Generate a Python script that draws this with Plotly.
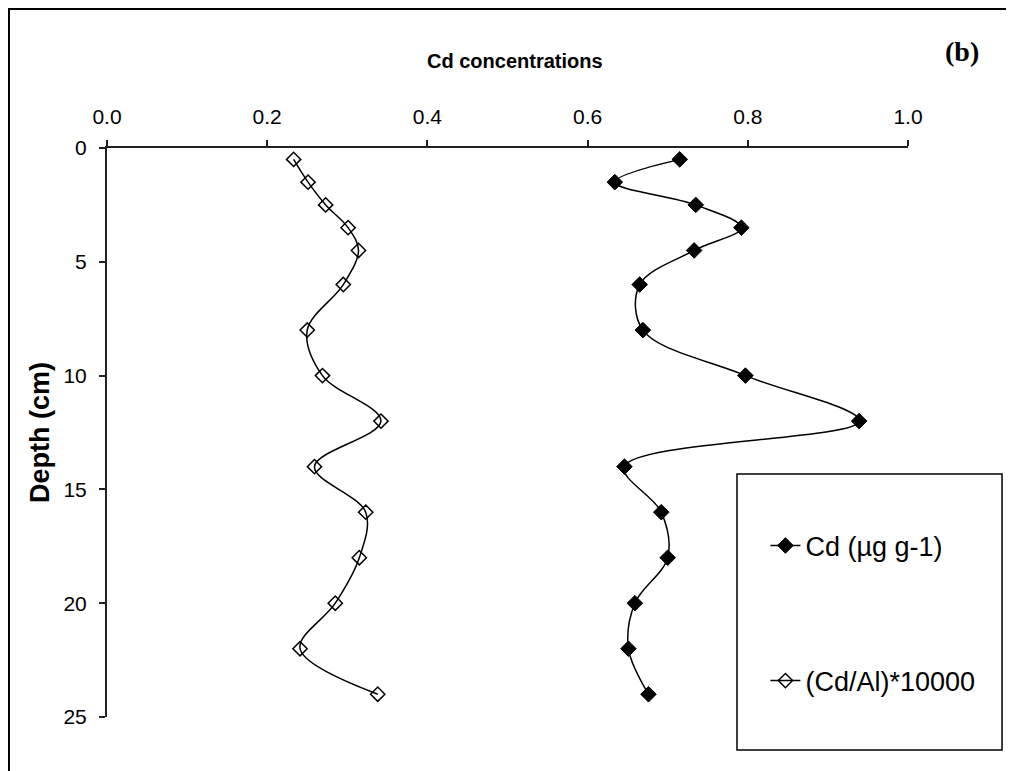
import plotly.graph_objects as go

# depth (cm) of each sample
depth = [0.5, 1.5, 2.5, 3.5, 4.5, 6, 8, 10, 12, 14, 16, 18, 20, 22, 24]
# Cd (ug g-1)
cd = [0.715, 0.634, 0.735, 0.792, 0.733, 0.665, 0.669, 0.797, 0.939,
      0.646, 0.692, 0.700, 0.659, 0.651, 0.676]
# (Cd/Al)*10000
cd_al = [0.233, 0.251, 0.273, 0.301, 0.314, 0.295, 0.250, 0.269, 0.342,
         0.259, 0.323, 0.315, 0.285, 0.241, 0.338]

x_ticks = [0.0, 0.2, 0.4, 0.6, 0.8, 1.0]
y_ticks = [0, 5, 10, 15, 20, 25]

FONT = "Liberation Sans, Arial, sans-serif"

fig = go.Figure()

fig.add_trace(go.Scatter(
    x=cd, y=depth, mode="lines+markers", name="Cd (µg g-1)",
    line=dict(color="black", width=1.5, shape="spline", smoothing=1),
    marker=dict(symbol="diamond", size=12, color="black",
                line=dict(color="black", width=1)),
    legendgroup="a"))

fig.add_trace(go.Scatter(
    x=cd_al, y=depth, mode="lines+markers", name="(Cd/Al)*10000",
    line=dict(color="black", width=1.5, shape="spline", smoothing=1),
    marker=dict(symbol="diamond-open", size=11, color="black",
                line=dict(color="black", width=1.5)),
    legendgroup="b"))

fig.update_xaxes(
    range=[0, 1], side="top", tickvals=x_ticks, tickformat=".1f",
    showline=True, linecolor="#222", linewidth=2,
    ticks="outside", ticklen=6, tickwidth=1.5, tickcolor="#222",
    ticklabelstandoff=8,
    showgrid=False, zeroline=False,
    tickfont=dict(family=FONT, size=21, color="black"))

fig.update_yaxes(
    range=[25, 0], tickvals=y_ticks,
    showline=True, linecolor="#222", linewidth=2,
    ticks="outside", ticklen=6, tickwidth=1.5, tickcolor="#222",
    ticklabelstandoff=8,
    showgrid=False, zeroline=False,
    title=dict(text="<b>Depth (cm)</b>", standoff=6,
               font=dict(family=FONT, size=27, color="black")),
    tickfont=dict(family=FONT, size=21, color="black"))

# the page body adds an 8px margin, so the figure is 8px smaller and
# the left/top margins 8px narrower
fig.update_layout(
    width=1006, height=763,
    margin=dict(l=99, r=106, t=140, b=54),
    paper_bgcolor="white", plot_bgcolor="white",
    showlegend=True,
    legend=dict(x=0.822, y=0.182, xanchor="left", yanchor="middle",
                traceorder="grouped", tracegroupgap=97,
                font=dict(family=FONT, size=27, color="black"),
                bgcolor="rgba(0,0,0,0)", borderwidth=0),
    annotations=[
        dict(text="<b>Cd concentrations</b>", xref="paper", yref="paper",
             x=0.509, y=1.153, xanchor="center", yanchor="middle",
             showarrow=False,
             font=dict(family=FONT, size=20, color="black")),
        dict(text="<b>(b)</b>", xref="paper", yref="paper",
             x=1.067, y=1.169, xanchor="center", yanchor="middle",
             showarrow=False,
             font=dict(family="Liberation Serif, Times New Roman, serif",
                       size=28, color="black")),
    ],
    shapes=[
        # legend frame
        dict(type="rect", xref="paper", yref="paper",
             x0=0.7865, x1=1.1174, y0=-0.058, y1=0.427,
             line=dict(color="black", width=1.5)),
        # outer chart border
        dict(type="rect", xref="paper", yref="paper",
             x0=-0.1224, x1=1.14, y0=-0.1, y1=1.2443,
             line=dict(color="black", width=2)),
    ],
)

fig.write_html("out.html")
